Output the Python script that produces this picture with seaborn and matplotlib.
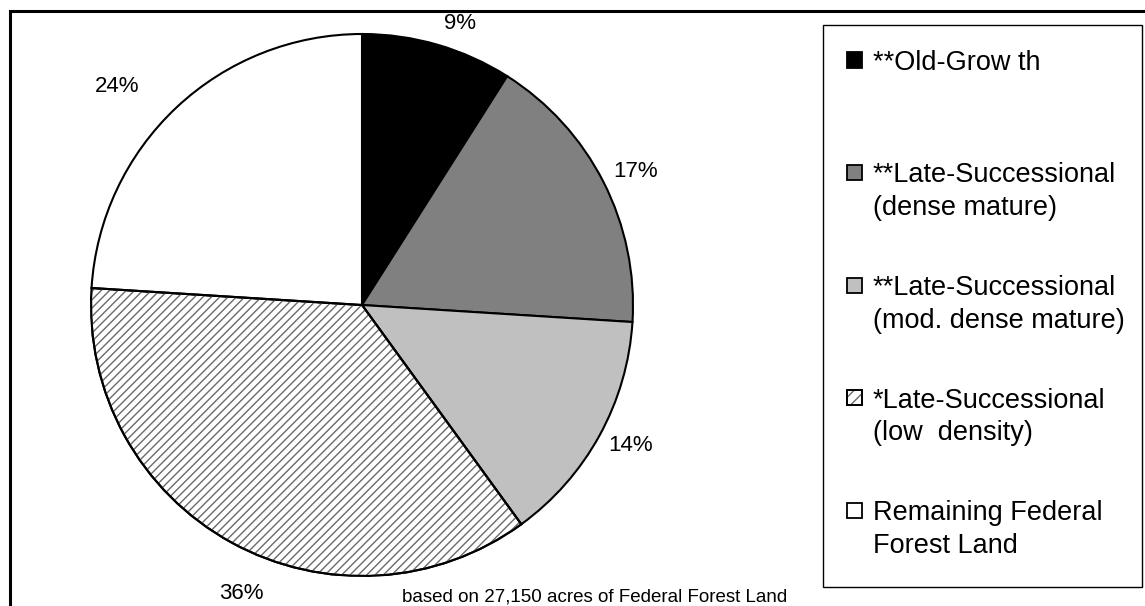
import numpy as np
import matplotlib
matplotlib.use("Agg")
import matplotlib.pyplot as plt
from matplotlib.patches import Rectangle, Wedge
import seaborn as sns

# Forest land classes and their share of the total (percent)
categories = [
    "**Old-Grow th",
    "**Late-Successional\n(dense mature)",
    "**Late-Successional\n(mod. dense mature)",
    "*Late-Successional\n(low  density)",
    "Remaining Federal\nForest Land",
]
shares = [9, 17, 14, 36, 24]
pct_labels = [f"{v}%" for v in shares]
footnote = "based on 27,150 acres of Federal Forest Land"

# Styling per class
fills = ["#000000", "#808080", "#c0c0c0", "#ffffff", "#ffffff"]
hatches = [None, None, None, "////", None]
# Percentage label placement: radial distance and angular nudge (degrees)
label_radius = [1.10, 1.124, 1.119, 1.153, 1.21]
label_nudge = [-3.0, -1.1, 1.3, 6.0, 5.1]

sns.set_theme(style="white")
plt.rcParams["font.family"] = ["Liberation Sans", "DejaVu Sans"]
plt.rcParams["hatch.linewidth"] = 1.0

W, H = 1145, 606
fig = plt.figure(figsize=(W / 100, H / 100), dpi=100)
fig.patch.set_facecolor("white")


def fx(px):
    return px / W


def fy(py):
    return 1 - py / H


# Pie axes: centre and radius in pixels
cx, cy, r = 362, 305, 271
ax = fig.add_axes([fx(cx - r), fy(cy + r), 2 * r / W, 2 * r / H])

wedges, texts = ax.pie(
    shares,
    colors=fills,
    labels=pct_labels,
    startangle=90,
    counterclock=False,
    radius=1,
    labeldistance=1.1,
    wedgeprops=dict(edgecolor="black", linewidth=1.5),
    textprops=dict(fontsize=16, color="black"),
)
ax.set_xlim(-1, 1)
ax.set_ylim(-1, 1)
ax.set_aspect("equal")
ax.axis("off")

for w, t, k, dn, h in zip(wedges, texts, label_radius, label_nudge, hatches):
    mid = np.deg2rad((w.theta1 + w.theta2) / 2 + dn)
    t.set_position((k * np.cos(mid), k * np.sin(mid)))
    t.set_ha("center")
    t.set_va("center")
    t.set_clip_on(False)
    if h:
        ax.add_patch(Wedge(w.center, w.r, w.theta1, w.theta2, facecolor="none",
                           edgecolor="#6a6a6a", linewidth=0, hatch=h,
                           zorder=w.get_zorder() + 0.1))
        ax.add_patch(Wedge(w.center, w.r, w.theta1, w.theta2, facecolor="none",
                           edgecolor="black", linewidth=1.5,
                           zorder=w.get_zorder() + 0.2))

# Outer chart frame (left and top edges visible)
fig.add_artist(Rectangle((fx(10.5), -0.2), 1.5, fy(10.5) + 0.2,
                         transform=fig.transFigure, fill=False,
                         edgecolor="black", linewidth=2.2, clip_on=False))

# Legend box
lx0, ly0, lx1, ly1 = 822.5, 25, 1142, 587
fig.add_artist(Rectangle((fx(lx0), fy(ly1)), (lx1 - lx0) / W, (ly1 - ly0) / H,
                         transform=fig.transFigure, fill=False,
                         edgecolor="black", linewidth=1.0))

base0, step, line_gap = 70, 112.5, 33
sq = 15
for i, (label, fc, h) in enumerate(zip(categories, fills, hatches)):
    base = base0 + i * step
    cap_mid = base - 10
    box = (fx(847), fy(cap_mid + sq / 2))
    fig.add_artist(Rectangle(box, sq / W, sq / H,
                             transform=fig.transFigure, facecolor=fc,
                             edgecolor="black", linewidth=1.3))
    if h:
        fig.add_artist(Rectangle(box, sq / W, sq / H,
                                 transform=fig.transFigure, facecolor="none",
                                 edgecolor="#6a6a6a", linewidth=0, hatch="///"))
        fig.add_artist(Rectangle(box, sq / W, sq / H,
                                 transform=fig.transFigure, facecolor="none",
                                 edgecolor="black", linewidth=1.3))
    for j, line in enumerate(label.split("\n")):
        fig.text(fx(873), fy(base + j * line_gap), line, fontsize=19.5,
                 ha="left", va="baseline", color="black")

fig.text(fx(402), fy(602), footnote, fontsize=13.5, ha="left", va="baseline",
         color="black")

fig.savefig("out.png", dpi=100, facecolor="white")
